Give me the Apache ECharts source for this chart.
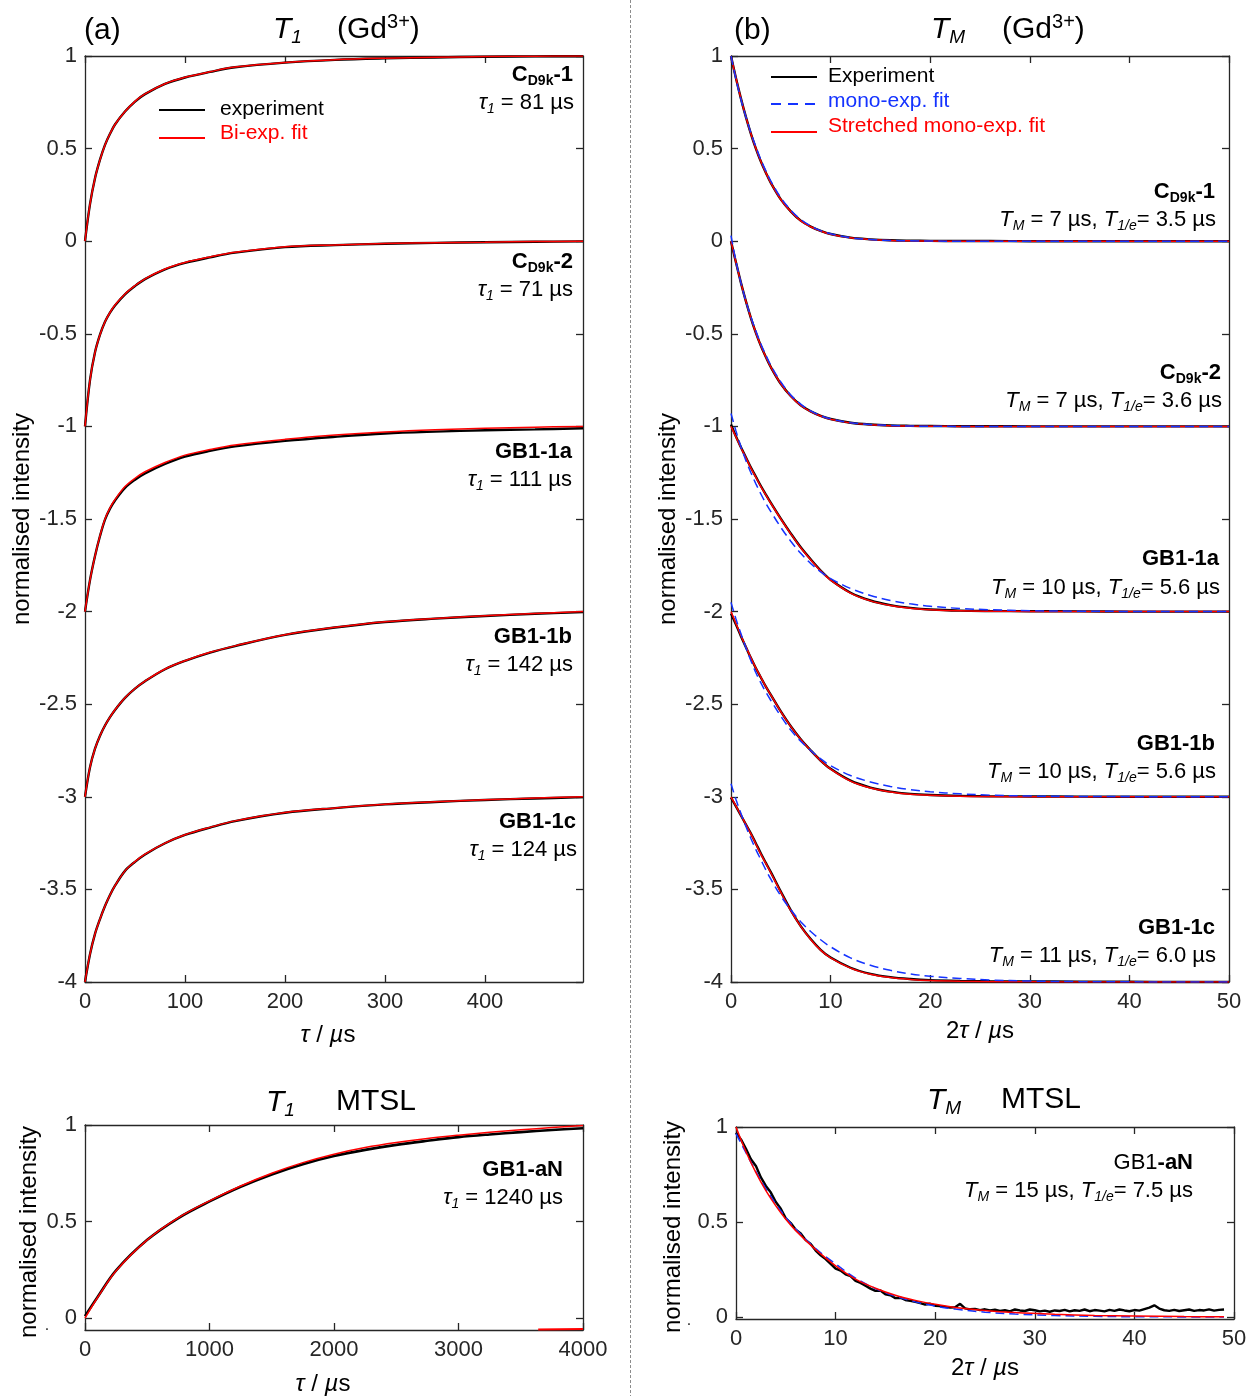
<!DOCTYPE html>
<html>
<head>
<meta charset="utf-8">
<script src="https://cdn.jsdelivr.net/npm/echarts@6/dist/echarts.min.js"></script>
<style>
  html, body { margin: 0; padding: 0; background: #ffffff; }
  #chart { width: 1250px; height: 1396px; }
</style>
</head>
<body>
<div id="chart"></div>
<script>
// ---------- (a) T1 of Gd3+ samples, inversion recovery (tau / µs), traces offset by -1 ----------
const tauA = [0, 5, 10, 15, 20, 25, 30, 40, 50, 60, 80, 100, 125, 150, 200, 250, 300, 350, 400, 450, 498];
const fitA1 = [0, 0.2, 0.34, 0.44, 0.52, 0.58, 0.63, 0.7, 0.755, 0.795, 0.85, 0.885, 0.915, 0.94, 0.965, 0.98, 0.988, 0.993, 0.997, 0.999, 1];
const expA1 = [0, 0.2, 0.34, 0.44, 0.52, 0.58, 0.63, 0.7, 0.754, 0.794, 0.849, 0.884, 0.914, 0.939, 0.964, 0.979, 0.987, 0.992, 0.996, 0.998, 0.999];
const fitA2 = [-1, -0.75, -0.6, -0.505, -0.435, -0.385, -0.345, -0.285, -0.24, -0.203, -0.15, -0.115, -0.085, -0.06, -0.03, -0.02, -0.013, -0.008, -0.005, -0.002, 0];
const expA2 = [-1, -0.75, -0.6, -0.505, -0.435, -0.386, -0.347, -0.287, -0.242, -0.205, -0.152, -0.117, -0.087, -0.062, -0.032, -0.021, -0.014, -0.009, -0.006, -0.003, -0.001];
const fitA3 = [-2, -1.83, -1.7, -1.59, -1.5, -1.44, -1.395, -1.325, -1.28, -1.245, -1.195, -1.155, -1.125, -1.1, -1.07, -1.047, -1.03, -1.018, -1.01, -1.004, -1];
const expA3 = [-2, -1.83, -1.7, -1.592, -1.503, -1.444, -1.4, -1.332, -1.288, -1.254, -1.203, -1.163, -1.132, -1.108, -1.078, -1.056, -1.038, -1.028, -1.021, -1.016, -1.01];
const fitA4 = [-3, -2.84, -2.74, -2.67, -2.615, -2.57, -2.53, -2.465, -2.415, -2.375, -2.31, -2.265, -2.22, -2.185, -2.125, -2.085, -2.055, -2.037, -2.023, -2.01, -2];
const expA4 = [-3, -2.84, -2.74, -2.67, -2.615, -2.57, -2.531, -2.466, -2.416, -2.376, -2.311, -2.266, -2.221, -2.186, -2.126, -2.086, -2.056, -2.038, -2.024, -2.012, -2.003];
const fitA5 = [-4, -3.85, -3.74, -3.66, -3.59, -3.53, -3.48, -3.4, -3.35, -3.31, -3.25, -3.205, -3.165, -3.13, -3.085, -3.06, -3.04, -3.027, -3.016, -3.007, -3];
const expA5 = [-4, -3.85, -3.74, -3.66, -3.59, -3.53, -3.48, -3.4, -3.351, -3.311, -3.251, -3.206, -3.166, -3.131, -3.086, -3.061, -3.041, -3.028, -3.017, -3.009, -3.002];

// ---------- (b) TM of Gd3+ samples, echo decay (2tau / µs), traces offset by -1 ----------
const tauB = [0, 0.5, 1, 1.5, 2, 2.5, 3, 3.5, 4, 5, 6, 7, 8, 9, 10, 12, 14, 16, 18, 20, 23, 26, 30, 35, 40, 45, 50];
const expB1 = [1, 0.88, 0.77, 0.67, 0.58, 0.5, 0.43, 0.37, 0.315, 0.226, 0.161, 0.111, 0.079, 0.056, 0.039, 0.019, 0.01, 0.005, 0.003, 0.002, 0.001, 0.001, 0, 0, 0, 0, 0];
const strB1 = [1, 0.88, 0.77, 0.67, 0.58, 0.5, 0.43, 0.37, 0.315, 0.225, 0.16, 0.11, 0.078, 0.055, 0.038, 0.018, 0.009, 0.004, 0.002, 0.001, 0, 0, 0, 0, 0, 0, 0];
const monoB1 = [1, 0.875, 0.765, 0.67, 0.585, 0.51, 0.44, 0.38, 0.325, 0.235, 0.168, 0.118, 0.082, 0.057, 0.04, 0.019, 0.009, 0.004, 0.002, 0.001, 0, 0, 0, 0, 0, 0, 0];
const expB2 = [0, -0.115, -0.225, -0.325, -0.415, -0.495, -0.565, -0.625, -0.68, -0.77, -0.836, -0.886, -0.919, -0.943, -0.96, -0.98, -0.99, -0.995, -0.997, -0.998, -0.999, -0.999, -1, -1, -1, -1, -1];
const strB2 = [0, -0.115, -0.225, -0.325, -0.415, -0.495, -0.565, -0.625, -0.68, -0.77, -0.837, -0.887, -0.92, -0.944, -0.961, -0.981, -0.991, -0.996, -0.998, -0.999, -1, -1, -1, -1, -1, -1, -1];
const monoB2 = [0.03, -0.11, -0.225, -0.325, -0.41, -0.485, -0.555, -0.615, -0.67, -0.76, -0.83, -0.88, -0.916, -0.942, -0.959, -0.98, -0.99, -0.995, -0.998, -0.999, -1, -1, -1, -1, -1, -1, -1];
const expB3 = [-0.99, -1.055, -1.113, -1.168, -1.222, -1.272, -1.322, -1.368, -1.413, -1.498, -1.578, -1.653, -1.718, -1.778, -1.828, -1.898, -1.94, -1.965, -1.98, -1.989, -1.995, -1.997, -1.998, -1.999, -2, -2, -2];
const strB3 = [-1, -1.057, -1.115, -1.17, -1.225, -1.275, -1.325, -1.37, -1.415, -1.5, -1.58, -1.655, -1.72, -1.78, -1.83, -1.9, -1.942, -1.967, -1.982, -1.99, -1.996, -1.998, -1.999, -2, -2, -2, -2];
const monoB3 = [-0.93, -1.025, -1.11, -1.185, -1.25, -1.31, -1.365, -1.415, -1.46, -1.545, -1.62, -1.685, -1.74, -1.785, -1.822, -1.875, -1.913, -1.94, -1.958, -1.971, -1.983, -1.99, -1.995, -1.998, -1.999, -2, -2];
const expB4 = [-2.01, -2.07, -2.133, -2.192, -2.251, -2.306, -2.356, -2.405, -2.45, -2.539, -2.619, -2.689, -2.749, -2.804, -2.849, -2.913, -2.95, -2.972, -2.984, -2.99, -2.995, -2.997, -2.998, -2.999, -3, -3, -3];
const strB4 = [-2, -2.065, -2.13, -2.19, -2.25, -2.305, -2.355, -2.405, -2.45, -2.54, -2.62, -2.69, -2.75, -2.805, -2.85, -2.915, -2.952, -2.974, -2.986, -2.992, -2.997, -2.999, -3, -3, -3, -3, -3];
const monoB4 = [-1.95, -2.04, -2.12, -2.195, -2.265, -2.33, -2.385, -2.435, -2.48, -2.565, -2.64, -2.7, -2.75, -2.795, -2.832, -2.885, -2.92, -2.944, -2.961, -2.973, -2.984, -2.991, -2.996, -2.998, -2.999, -3, -3];
const expB5 = [-3.005, -3.052, -3.101, -3.15, -3.198, -3.252, -3.306, -3.357, -3.407, -3.512, -3.612, -3.698, -3.768, -3.826, -3.868, -3.923, -3.956, -3.974, -3.984, -3.99, -3.994, -3.996, -3.997, -3.998, -3.999, -4, -4];
const strB5 = [-3, -3.05, -3.1, -3.15, -3.2, -3.255, -3.31, -3.36, -3.41, -3.515, -3.615, -3.7, -3.77, -3.828, -3.87, -3.925, -3.958, -3.976, -3.986, -3.992, -3.996, -3.998, -3.999, -4, -4, -4, -4];
const monoB5 = [-2.93, -3.015, -3.09, -3.16, -3.225, -3.285, -3.34, -3.395, -3.445, -3.535, -3.61, -3.675, -3.727, -3.772, -3.81, -3.87, -3.91, -3.937, -3.956, -3.969, -3.981, -3.989, -3.995, -3.998, -3.999, -4, -4];

// ---------- T1 of MTSL (GB1-aN) ----------
const tauC = [0, 100, 250, 500, 750, 1000, 1250, 1500, 1750, 2000, 2250, 2500, 2750, 3000, 3250, 3500, 3750, 4000];
const expC = [0.01, 0.108, 0.247, 0.405, 0.518, 0.604, 0.68, 0.744, 0.797, 0.839, 0.871, 0.897, 0.918, 0.937, 0.951, 0.963, 0.974, 0.983];
const fitC = [0, 0.105, 0.245, 0.405, 0.52, 0.607, 0.684, 0.75, 0.805, 0.849, 0.883, 0.909, 0.93, 0.947, 0.962, 0.975, 0.987, 0.997];
const tauCedge = [3640, 4000];
const fitCedge = [-0.06, -0.057];

// ---------- TM of MTSL (GB1-aN) ----------
const tauD = [0, 1, 2, 3, 4, 5, 6, 8, 10, 12, 14, 16, 18, 20, 22, 25, 28, 32, 36, 40, 45, 49];
const strD = [1, 0.87, 0.76, 0.665, 0.585, 0.515, 0.455, 0.355, 0.27, 0.2, 0.152, 0.115, 0.088, 0.067, 0.051, 0.035, 0.024, 0.015, 0.009, 0.006, 0.003, 0.002];
const monoD = [0.965, 0.865, 0.765, 0.675, 0.595, 0.525, 0.463, 0.36, 0.28, 0.205, 0.15, 0.11, 0.08, 0.058, 0.042, 0.026, 0.016, 0.008, 0.004, 0.002, 0.001, 0];
const tauDexp = [0, 0.5, 1, 1.5, 2, 2.5, 3, 3.5, 4, 4.5, 5, 5.5, 6, 6.5, 7, 7.5, 8, 8.5, 9, 9.5,
  10, 10.5, 11, 11.5, 12, 12.5, 13, 13.5, 14, 14.5, 15, 15.5, 16, 16.5, 17, 17.5, 18, 18.5, 19, 19.5,
  20, 20.5, 21, 21.5, 22, 22.5, 23, 23.5, 24, 24.5, 25, 25.5, 26, 26.5, 27, 27.5, 28, 28.5, 29, 29.5,
  30, 30.5, 31, 31.5, 32, 32.5, 33, 33.5, 34, 34.5, 35, 35.5, 36, 36.5, 37, 37.5, 38, 38.5, 39, 39.5,
  40, 40.5, 41, 41.5, 42, 42.5, 43, 43.5, 44, 44.5, 45, 45.5, 46, 46.5, 47, 47.5, 48, 48.5, 49];
const expD = [0.97, 0.935, 0.885, 0.83, 0.795, 0.735, 0.69, 0.655, 0.605, 0.57, 0.52, 0.495, 0.46, 0.44, 0.405, 0.385, 0.35, 0.325, 0.305, 0.28,
  0.255, 0.245, 0.225, 0.215, 0.19, 0.18, 0.165, 0.15, 0.138, 0.14, 0.12, 0.115, 0.1, 0.102, 0.09, 0.085, 0.08, 0.074, 0.066, 0.07,
  0.06, 0.058, 0.054, 0.05, 0.052, 0.07, 0.046, 0.041, 0.043, 0.037, 0.041, 0.035, 0.039, 0.033, 0.036, 0.03, 0.04, 0.035, 0.032, 0.04,
  0.036, 0.03, 0.034, 0.028, 0.035, 0.032, 0.038, 0.03, 0.036, 0.033, 0.04, 0.031, 0.037, 0.034, 0.03, 0.038, 0.033, 0.04, 0.035, 0.031,
  0.037, 0.034, 0.042, 0.05, 0.062, 0.045, 0.036, 0.033, 0.038, 0.032, 0.036, 0.04, 0.033, 0.037, 0.035, 0.041, 0.034, 0.038, 0.04];

// ---------- axis tick positions ----------
const ticksXa = [0, 100, 200, 300, 400];
const ticksXb = [0, 10, 20, 30, 40, 50];
const ticksXc = [0, 1000, 2000, 3000, 4000];
const ticksYab = [-4, -3.5, -3, -2.5, -2, -1.5, -1, -0.5, 0, 0.5, 1];
const ticksYcd = [0, 0.5, 1];

const FONT = "'Liberation Sans', Arial, Helvetica, sans-serif";
const AX = '#262626';
const RED = '#ff0000';
const BLUE = '#1433ff';

function pairs(xs, ys) { return xs.map((x, i) => [x, ys[i]]); }

function axis(grid, pos, min, max, ticks, labels, interval) {
  return {
    type: 'value', gridIndex: grid, position: pos, min: min, max: max, interval: interval,
    axisLine: { show: true, onZero: false, lineStyle: { color: AX, width: 1.3 } },
    axisTick: { show: true, inside: true, length: 7, customValues: ticks, lineStyle: { color: AX, width: 1.3 } },
    axisLabel: { show: labels, customValues: ticks, color: AX, fontSize: 22, fontFamily: FONT,
                 margin: (pos === 'bottom') ? 9 : 8, formatter: v => String(v) },
    splitLine: { show: false }
  };
}

function line(g, xs, ys, color, width, dash, z, smooth) {
  return {
    type: 'line', xAxisIndex: 2 * g, yAxisIndex: 2 * g, data: pairs(xs, ys),
    symbol: 'none', showSymbol: false, silent: true, z: z,
    smooth: smooth === undefined ? 0.35 : smooth,
    lineStyle: { color: color, width: width, type: dash || 'solid', cap: 'butt' }
  };
}

const series = [];
// panel (a): experiment under bi-exponential fit
[[expA1, fitA1], [expA2, fitA2], [expA3, fitA3], [expA4, fitA4], [expA5, fitA5]].forEach(p => {
  series.push(line(0, tauA, p[0], '#000000', 2.4, null, 2));
  series.push(line(0, tauA, p[1], RED, 1.5, null, 3));
});
// panel (b): experiment, stretched fit, mono-exponential fit
[[expB1, strB1, monoB1], [expB2, strB2, monoB2], [expB3, strB3, monoB3], [expB4, strB4, monoB4], [expB5, strB5, monoB5]].forEach(p => {
  series.push(line(1, tauB, p[0], '#000000', 2.4, null, 2));
  series.push(line(1, tauB, p[1], RED, 1.5, null, 3));
  series.push(line(1, tauB, p[2], BLUE, 1.5, [9, 5], 4));
});
// MTSL T1
series.push(line(2, tauC, expC, '#000000', 2.6, null, 2));
series.push(line(2, tauC, fitC, RED, 1.5, null, 3));
series.push(line(2, tauCedge, fitCedge, RED, 2, null, 3, false));
// MTSL TM
series.push(line(3, tauDexp, expD, '#000000', 2.4, null, 2, false));
series.push(line(3, tauD, monoD, BLUE, 1.5, [9, 5], 3));
series.push(line(3, tauD, strD, RED, 1.5, null, 4));

// ---------- text ----------
const base = { fontFamily: FONT, fill: '#000000', lineHeight: 30 };
const rich = {
  n:   Object.assign({}, base, { fontSize: 22 }),
  b:   Object.assign({}, base, { fontSize: 22, fontWeight: 'bold' }),
  bs:  Object.assign({}, base, { fontSize: 14, fontWeight: 'bold', padding: [12, 0, 0, 0] }),
  i:   Object.assign({}, base, { fontSize: 22, fontStyle: 'italic' }),
  is:  Object.assign({}, base, { fontSize: 14, fontStyle: 'italic', padding: [12, 0, 0, 0] }),
  ax:  Object.assign({}, base, { fontSize: 24 }),
  axi: Object.assign({}, base, { fontSize: 24, fontStyle: 'italic' }),
  t:   Object.assign({}, base, { fontSize: 30, lineHeight: 40 }),
  ti:  Object.assign({}, base, { fontSize: 30, fontStyle: 'italic', lineHeight: 40 }),
  tis: Object.assign({}, base, { fontSize: 19, fontStyle: 'italic', lineHeight: 40, padding: [16, 0, 0, 0] }),
  sup: Object.assign({}, base, { fontSize: 20, lineHeight: 40, padding: [0, 0, 16, 0] })
};

function txt(x, y, text, opts) {
  return {
    type: 'text', x: x, y: y, silent: true, z: 10,
    style: Object.assign({ text: text, rich: rich, font: '22px ' + FONT, fill: '#000000',
                           align: 'left', verticalAlign: 'middle' }, opts || {})
  };
}
function rtxt(x, y, text) { return txt(x, y, text, { align: 'right' }); }
function ylab(x, y) {
  const t = txt(0, 0, '{ax|normalised intensity}', { align: 'center' });
  t.x = x; t.y = y; t.rotation = Math.PI / 2;
  return t;
}
function seg(x1, y1, x2, y2, color, dash) {
  return { type: 'line', silent: true, z: 10,
           shape: { x1: x1, y1: y1, x2: x2, y2: y2 },
           style: { stroke: color, lineWidth: 2, lineDash: dash || null } };
}

const graphic = [
  // panel divider
  { type: 'line', silent: true, shape: { x1: 630.5, y1: 0, x2: 630.5, y2: 1396 },
    style: { stroke: '#8c8c8c', lineWidth: 1, lineDash: [3, 2] } },

  // (a)
  txt(84, 31, '{t|(a)}'),
  txt(273, 30, '{ti|T}{tis|1}'),
  txt(337, 30, '{t|(Gd}{sup|3+}{t|)}'),
  seg(159, 110, 205, 110, '#000000'),
  txt(220, 109, 'experiment', { font: '21px ' + FONT, rich: null }),
  seg(159, 138, 205, 138, RED),
  txt(220, 133, 'Bi-exp. fit', { font: '21px ' + FONT, fill: RED, rich: null }),
  rtxt(573, 75, '{b|C}{bs|D9k}{b|-1}'),
  rtxt(574, 103, '{i|τ}{is|1}{n| = 81 µs}'),
  rtxt(573, 262, '{b|C}{bs|D9k}{b|-2}'),
  rtxt(573, 290, '{i|τ}{is|1}{n| = 71 µs}'),
  rtxt(572, 452, '{b|GB1-1a}'),
  rtxt(572, 480, '{i|τ}{is|1}{n| = 111 µs}'),
  rtxt(572, 637, '{b|GB1-1b}'),
  rtxt(573, 665, '{i|τ}{is|1}{n| = 142 µs}'),
  rtxt(576, 822, '{b|GB1-1c}'),
  rtxt(577, 850, '{i|τ}{is|1}{n| = 124 µs}'),
  ylab(22, 519),
  txt(328, 1035, '{axi|τ}{ax| / }{axi|µ}{ax|s}', { align: 'center' }),

  // (b)
  txt(734, 31, '{t|(b)}'),
  txt(931, 30, '{ti|T}{tis|M}'),
  txt(1002, 30, '{t|(Gd}{sup|3+}{t|)}'),
  seg(771, 77, 817, 77, '#000000'),
  txt(828, 76, 'Experiment', { font: '21px ' + FONT, rich: null }),
  seg(771, 104, 817, 104, BLUE, [10, 7]),
  txt(828, 101, 'mono-exp. fit', { font: '21px ' + FONT, fill: BLUE, rich: null }),
  seg(771, 132, 817, 132, RED),
  txt(828, 126, 'Stretched mono-exp. fit', { font: '21px ' + FONT, fill: RED, rich: null }),
  rtxt(1215, 192, '{b|C}{bs|D9k}{b|-1}'),
  rtxt(1216, 220, '{i|T}{is|M}{n| = 7 µs, }{i|T}{is|1/e}{n|= 3.5 µs}'),
  rtxt(1221, 373, '{b|C}{bs|D9k}{b|-2}'),
  rtxt(1222, 401, '{i|T}{is|M}{n| = 7 µs, }{i|T}{is|1/e}{n|= 3.6 µs}'),
  rtxt(1219, 559, '{b|GB1-1a}'),
  rtxt(1220, 588, '{i|T}{is|M}{n| = 10 µs, }{i|T}{is|1/e}{n|= 5.6 µs}'),
  rtxt(1215, 744, '{b|GB1-1b}'),
  rtxt(1216, 772, '{i|T}{is|M}{n| = 10 µs, }{i|T}{is|1/e}{n|= 5.6 µs}'),
  rtxt(1215, 928, '{b|GB1-1c}'),
  rtxt(1216, 956, '{i|T}{is|M}{n| = 11 µs, }{i|T}{is|1/e}{n|= 6.0 µs}'),
  ylab(668, 519),
  txt(980, 1031, '{ax|2}{axi|τ}{ax| / }{axi|µ}{ax|s}', { align: 'center' }),

  // MTSL T1
  txt(266, 1103, '{ti|T}{tis|1}'),
  txt(336, 1102, '{t|MTSL}'),
  rtxt(563, 1170, '{b|GB1-aN}'),
  rtxt(563, 1198, '{i|τ}{is|1}{n| = 1240 µs}'),
  ylab(29, 1232),
  txt(323, 1384, '{axi|τ}{ax| / }{axi|µ}{ax|s}', { align: 'center' }),
  txt(47, 1326, '.', { font: '16px ' + FONT, fill: AX, rich: null, align: 'center' }),

  // MTSL TM
  txt(927, 1101, '{ti|T}{tis|M}'),
  txt(1001, 1100, '{t|MTSL}'),
  rtxt(1193, 1163, '{n|GB1}{b|-aN}'),
  rtxt(1193, 1191, '{i|T}{is|M}{n| = 15 µs, }{i|T}{is|1/e}{n|= 7.5 µs}'),
  ylab(673, 1227),
  txt(985, 1368, '{ax|2}{axi|τ}{ax| / }{axi|µ}{ax|s}', { align: 'center' }),
  txt(689, 1321, '.', { font: '16px ' + FONT, fill: AX, rich: null, align: 'center' })
];

const option = {
  backgroundColor: '#ffffff',
  animation: false,
  grid: [
    { left: 85, top: 56, width: 498, height: 926 },
    { left: 731, top: 56, width: 498, height: 926 },
    { left: 85, top: 1125, width: 498, height: 205 },
    { left: 736, top: 1127, width: 498, height: 192 }
  ],
  xAxis: [
    axis(0, 'bottom', 0, 498, ticksXa, true),
    axis(0, 'top', 0, 498, ticksXa, false),
    axis(1, 'bottom', 0, 50, ticksXb, true, 10),
    axis(1, 'top', 0, 50, ticksXb, false, 10),
    axis(2, 'bottom', 0, 4000, ticksXc, true, 1000),
    axis(2, 'top', 0, 4000, ticksXc, false, 1000),
    axis(3, 'bottom', 0, 50, ticksXb, true, 10),
    axis(3, 'top', 0, 50, ticksXb, false, 10)
  ],
  yAxis: [
    axis(0, 'left', -4, 1, ticksYab, true, 0.5),
    axis(0, 'right', -4, 1, ticksYab, false, 0.5),
    axis(1, 'left', -4, 1, ticksYab, true, 0.5),
    axis(1, 'right', -4, 1, ticksYab, false, 0.5),
    axis(2, 'left', -0.062, 1, ticksYcd, true),
    axis(2, 'right', -0.062, 1, ticksYcd, false),
    axis(3, 'left', -0.01, 1, ticksYcd, true),
    axis(3, 'right', -0.01, 1, ticksYcd, false)
  ],
  series: series,
  graphic: graphic
};

const chart = echarts.init(document.getElementById('chart'), null, { renderer: 'canvas' });
chart.setOption(option);
</script>
</body>
</html>
